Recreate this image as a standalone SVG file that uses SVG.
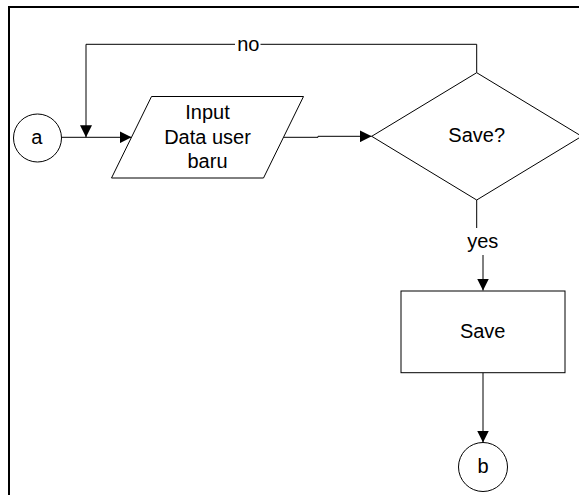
<svg xmlns="http://www.w3.org/2000/svg" width="579" height="495" viewBox="0 0 579 495">
<defs>
<style>
.shape{fill:#fff;stroke:#000;stroke-width:1}
.conn{fill:none;stroke:#000;stroke-width:1}
.t{font-family:"Liberation Sans",Arial,sans-serif;font-size:20px;fill:#000;text-anchor:middle}
</style>
<marker id="arr" viewBox="0 0 12 12" refX="12" refY="6" markerWidth="12" markerHeight="12" markerUnits="userSpaceOnUse" orient="auto">
<path d="M0,0 L12,6 L0,12 Z" fill="#000"/>
</marker>
</defs>
<rect x="0" y="0" width="579" height="495" fill="#fff"/>
<rect x="9" y="7" width="620" height="540" fill="none" stroke="#000" stroke-width="2"/>
<g id="connectors">
<path class="conn" d="M61.5,137.3 H131.5" marker-end="url(#arr)"/>
<path class="conn" d="M476.7,72.7 V44.3 H260.5 M235,44.3 H86 V137.3" marker-end="url(#arr)"/>
<path class="conn" d="M283.5,137.3 H318 V136.3 H371.7" marker-end="url(#arr)"/>
<path class="conn" d="M476.7,200 V228"/>
<path class="conn" d="M483,255 V290.5" marker-end="url(#arr)"/>
<path class="conn" d="M483,372.7 V442.5" marker-end="url(#arr)"/>
<text class="t" x="248.3" y="50.7">no</text>
<text class="t" x="482.8" y="248.3">yes</text>
</g>
<g id="node-a">
<circle class="shape" cx="37.5" cy="138" r="24"/>
<text class="t" x="36.8" y="143.5">a</text>
</g>
<g id="node-input">
<polygon class="shape" points="151.5,96.5 303.5,96.5 263.5,178 111.5,178"/>
<text class="t" x="207.5" y="119.3">Input</text>
<text class="t" x="207.5" y="144">Data user</text>
<text class="t" x="207.5" y="168.3">baru</text>
</g>
<g id="node-decision">
<polygon class="shape" points="476.7,72.7 581.7,136.3 476.7,200 371.7,136.3"/>
<text class="t" x="476.7" y="141.7">Save?</text>
</g>
<g id="node-save">
<rect class="shape" x="401" y="291" width="164" height="81.7"/>
<text class="t" x="482.7" y="338">Save</text>
</g>
<g id="node-b">
<circle class="shape" cx="483" cy="467" r="24.5"/>
<text class="t" x="483" y="473.3">b</text>
</g>
</svg>
